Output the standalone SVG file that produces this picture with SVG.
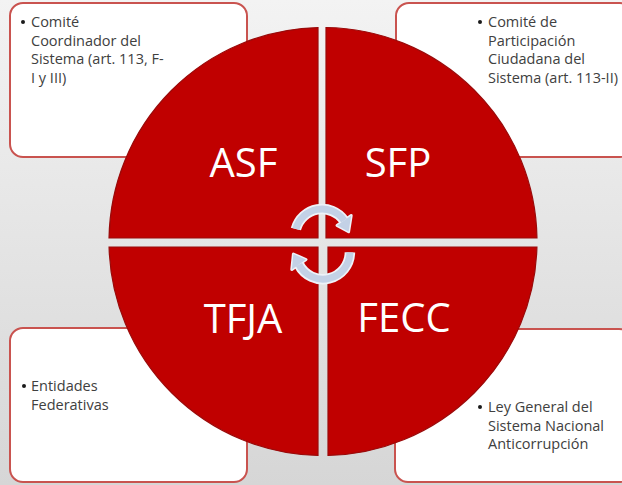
<svg xmlns="http://www.w3.org/2000/svg" width="622" height="485" viewBox="0 0 622 485">
  <defs>
    <linearGradient id="bg" x1="0" y1="0" x2="0" y2="1">
      <stop offset="0" stop-color="#f3f3f3"/>
      <stop offset="1" stop-color="#d6d6d6"/>
    </linearGradient>
    <style>
      .box { fill: #ffffff; stroke: #c9534f; stroke-width: 2; }
      .quad { fill: #c00000; stroke: #9a0a0a; stroke-width: 1.2; }
      .big { font-family: "Open Sans", "Liberation Sans", sans-serif; font-size: 40px; fill: #ffffff; text-anchor: middle; }
      .txt { font-family: "Open Sans", "Liberation Sans", sans-serif; font-size: 14.5px; fill: #404040; }
      .dot { fill: #1a1a1a; }
      .arcOut { fill: none; stroke: #eef2f8; stroke-width: 10.5; }
      .arcIn { fill: none; stroke: #c3d1e6; stroke-width: 7; }
      .headOut { fill: #eef2f8; stroke: #eef2f8; stroke-width: 3; stroke-linejoin: round; }
      .headIn { fill: #c3d1e6; }
    </style>
  </defs>

  <rect x="0" y="0" width="622" height="485" fill="url(#bg)"/>

  <g id="box-ccs">
    <rect class="box" x="10" y="3" width="237" height="154" rx="13"/>
    <circle class="dot" cx="23" cy="22" r="2"/>
    <text class="txt" x="31" y="27">Comité</text>
    <text class="txt" x="31" y="45.5">Coordinador del</text>
    <text class="txt" x="31" y="64">Sistema (art. 113, F-</text>
    <text class="txt" x="31" y="82.5">I y III)</text>
  </g>

  <g id="box-cpc">
    <rect class="box" x="396" y="3" width="237" height="154" rx="13"/>
    <circle class="dot" cx="480" cy="22" r="2"/>
    <text class="txt" x="488" y="27">Comité de</text>
    <text class="txt" x="488" y="45.5">Participación</text>
    <text class="txt" x="488" y="64">Ciudadana del</text>
    <text class="txt" x="488" y="82.5">Sistema (art. 113-II)</text>
  </g>

  <g id="box-ef">
    <rect class="box" x="10" y="328" width="237" height="154" rx="13"/>
    <circle class="dot" cx="24" cy="386" r="2"/>
    <text class="txt" x="31" y="391">Entidades</text>
    <text class="txt" x="31" y="409.5">Federativas</text>
  </g>

  <g id="box-ley">
    <rect class="box" x="395" y="329" width="237" height="153" rx="13"/>
    <circle class="dot" cx="480" cy="407" r="2"/>
    <text class="txt" x="488" y="412">Ley General del</text>
    <text class="txt" x="488" y="430.5">Sistema Nacional</text>
    <text class="txt" x="488" y="449">Anticorrupción</text>
  </g>

  <g id="q-asf">
    <path class="quad" d="M318,238 L318,27.56 A214,214 0 0 0 109.03,238 Z"/>
    <text class="big" x="243.5" y="177">ASF</text>
  </g>
  <g id="q-sfp">
    <path class="quad" d="M326,238 L326,27.52 A214,214 0 0 1 536.97,238 Z"/>
    <text class="big" x="398" y="177">SFP</text>
  </g>
  <g id="q-tfja">
    <path class="quad" d="M318,247 L109.07,247 A214,214 0 0 0 318,455.44 Z"/>
    <text class="big" x="243" y="333">TFJA</text>
  </g>
  <g id="q-fecc">
    <path class="quad" d="M328,247 L536.93,247 A214,214 0 0 1 328,455.44 Z"/>
    <text class="big" x="404" y="332">FECC</text>
  </g>

  <g id="connectors">
    <path class="arcOut" d="M295.9,229 A27,27 0 0 1 344.1,220.5"/>
    <polygon class="headOut" points="351.2,215.5 337,225.5 348.6,231.8"/>
    <path class="arcOut" d="M349.9,252.4 A27,27 0 0 1 298.9,264.5"/>
    <polygon class="headOut" points="291.8,269.5 306,259.5 293.4,254"/>
    <path class="arcIn" d="M295.9,229 A27,27 0 0 1 344.1,220.5"/>
    <polygon class="headIn" points="351.2,215.5 337,225.5 348.6,231.8"/>
    <path class="arcIn" d="M349.9,252.4 A27,27 0 0 1 298.9,264.5"/>
    <polygon class="headIn" points="291.8,269.5 306,259.5 293.4,254"/>
  </g>
</svg>
